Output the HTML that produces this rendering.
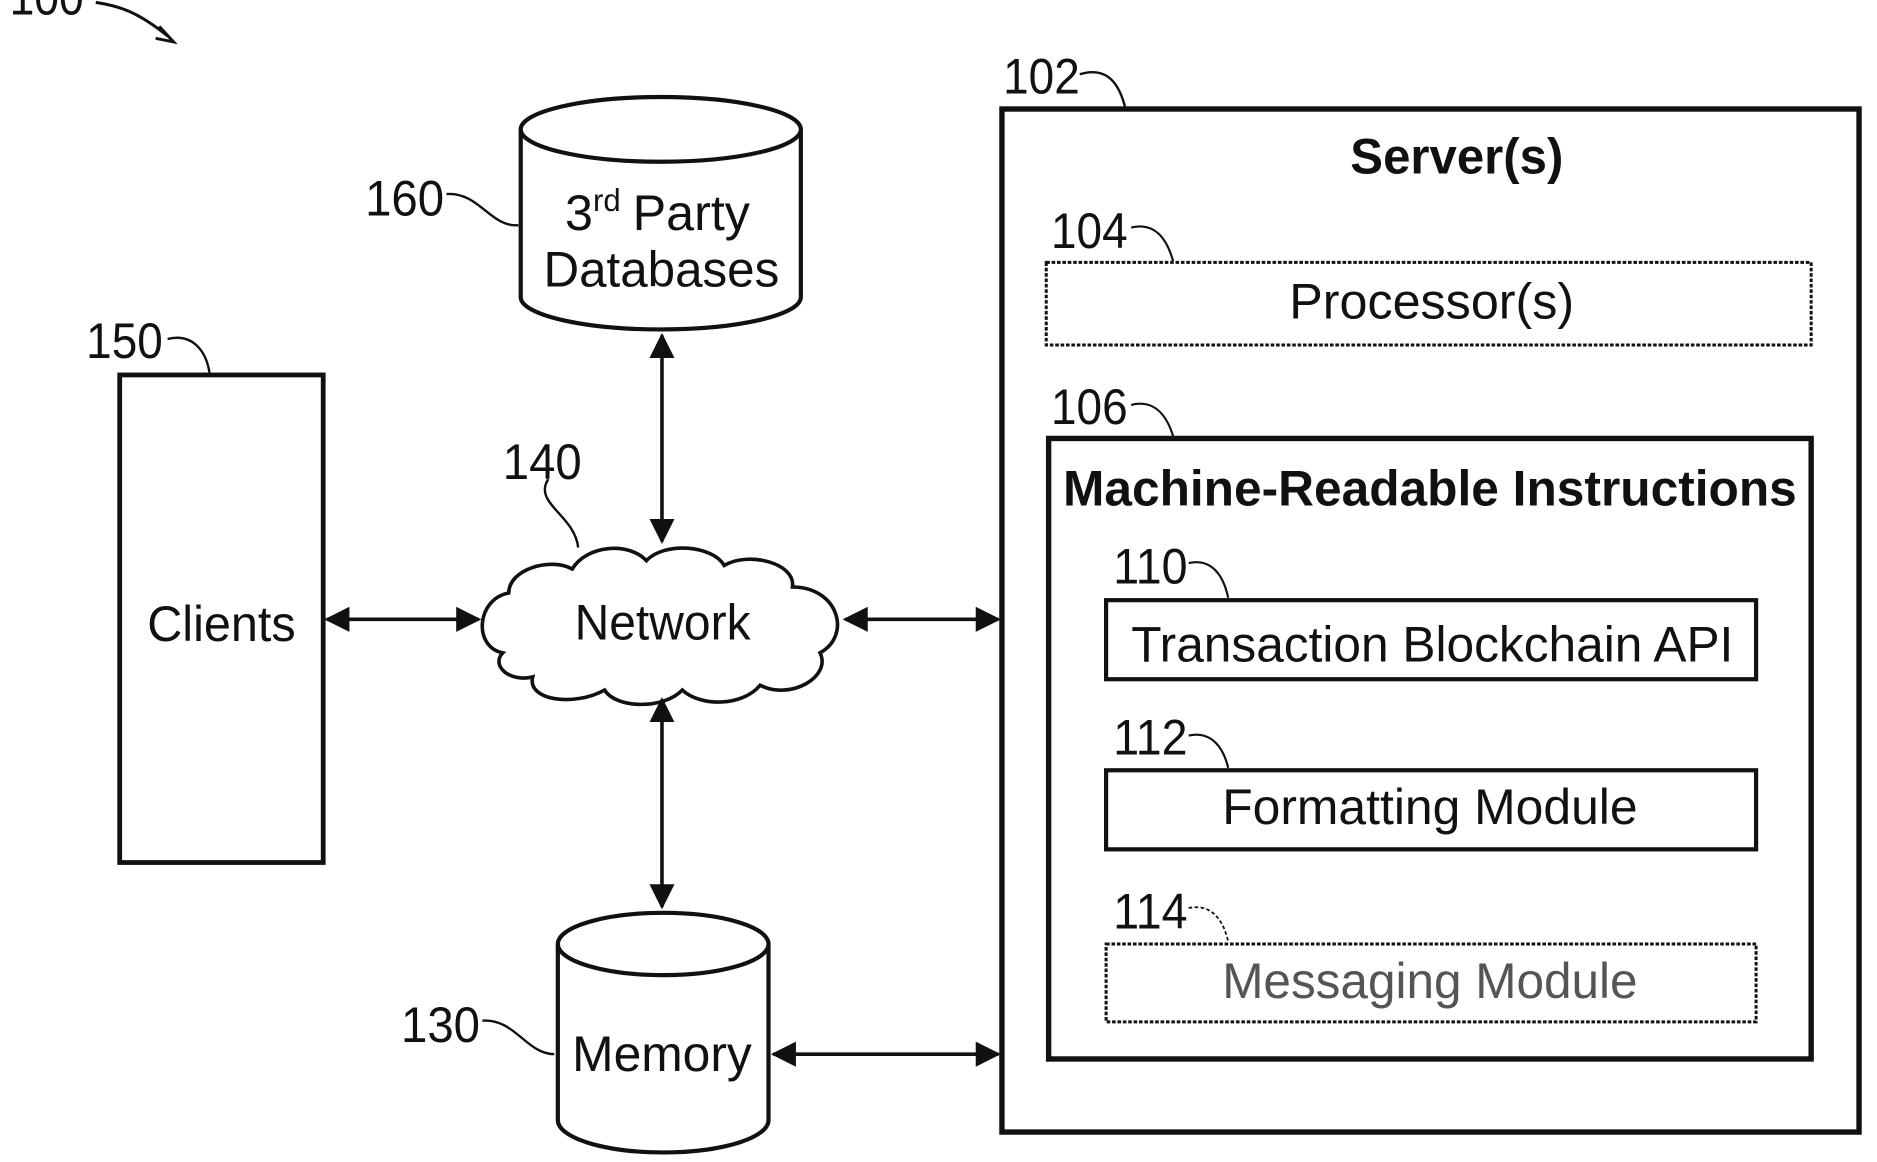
<!DOCTYPE html>
<html><head><meta charset="utf-8"><style>
html,body{margin:0;padding:0;background:#fff;}
svg{display:block;}
text{font-family:"Liberation Sans",sans-serif;fill:#111;}
</style></head><body>
<svg width="1877" height="1162" viewBox="0 0 1568 970" preserveAspectRatio="none" xmlns="http://www.w3.org/2000/svg">
<defs>
<marker id="ah" viewBox="0 0 10 10" refX="9" refY="5" markerWidth="7" markerHeight="7" orient="auto-start-reverse">
<path d="M0,0 L10,5 L0,10 z" fill="#111"/></marker>
</defs>
<g stroke="#111" fill="none">
<!-- 100 -->
<path d="M80,2 C100,5 115,10 140,30" stroke-width="2.5"/>
<path d="M133,22 L145,35 L130,32" stroke-width="2.5"/>
<!-- server -->
<rect x="837" y="91" width="716" height="854" stroke-width="4.5"/>
<path d="M902,62 C925,55 935,70 940,90" stroke-width="2"/>
<rect x="874" y="219" width="639" height="69" stroke-width="2.5" stroke-dasharray="3 1.5"/>
<path d="M945,190 C965,185 975,200 980,218" stroke-width="1.8"/>
<rect x="876" y="366" width="637" height="518" stroke-width="4.5"/>
<path d="M945,338 C965,333 975,348 980,364" stroke-width="1.8"/>
<rect x="924" y="501" width="543" height="66" stroke-width="3.5"/>
<path d="M993,470 C1012,466 1022,480 1026,499" stroke-width="1.8"/>
<rect x="924" y="643" width="543" height="66" stroke-width="3.5"/>
<path d="M993,614 C1012,610 1022,624 1026,641" stroke-width="1.8"/>
<rect x="924" y="788" width="543" height="65" stroke-width="2.5" stroke-dasharray="3 1.5"/>
<path d="M993,758 C1012,754 1022,768 1026,786" stroke-width="1.5" stroke-dasharray="3 2"/>
<!-- clients -->
<rect x="100" y="313" width="170" height="407" stroke-width="4"/>
<path d="M140,283 C160,278 172,292 175,311" stroke-width="2"/>
<!-- 3rd party db -->
<path d="M435,108 L435,248 A117,27 0 0 0 669,248 L669,108" stroke-width="3.5" fill="#fff"/>
<ellipse cx="552" cy="108" rx="117" ry="27" stroke-width="3.5" fill="#fff"/>
<path d="M373,162 C400,160 410,190 433,188" stroke-width="2"/>
<!-- memory -->
<path d="M466,788 L466,935 A88,27 0 0 0 642,935 L642,788" stroke-width="3.5" fill="#fff"/>
<ellipse cx="554" cy="788" rx="88" ry="26" stroke-width="3.5" fill="#fff"/>
<path d="M403,852 C430,850 440,880 463,880" stroke-width="2"/>
<!-- cloud -->
<path d="M420,545 C395,540 398,500 425,495 C425,475 460,465 478,475 C490,455 525,452 540,468 C555,452 595,455 605,472 C625,460 665,470 662,490 C700,490 712,530 685,545 C695,565 660,585 635,572 C620,590 585,590 570,576 C555,592 515,592 505,576 C480,590 440,585 445,565 C425,570 410,555 420,545 Z" stroke-width="3" fill="#fff"/>
<path d="M458,400 C445,420 480,430 483,457" stroke-width="2"/>
<!-- arrows -->
<line x1="553" y1="280" x2="553" y2="452" stroke-width="3" marker-start="url(#ah)" marker-end="url(#ah)"/>
<line x1="553" y1="584" x2="553" y2="757" stroke-width="3" marker-start="url(#ah)" marker-end="url(#ah)"/>
<line x1="273" y1="517" x2="400" y2="517" stroke-width="3" marker-start="url(#ah)" marker-end="url(#ah)"/>
<line x1="706" y1="517" x2="834" y2="517" stroke-width="3" marker-start="url(#ah)" marker-end="url(#ah)"/>
<line x1="646" y1="880" x2="834" y2="880" stroke-width="3" marker-start="url(#ah)" marker-end="url(#ah)"/>
</g>
<g font-size="42">
<text x="8" y="12" textLength="62" lengthAdjust="spacingAndGlyphs">100</text>
<text x="838" y="78" textLength="64" lengthAdjust="spacingAndGlyphs">102</text>
<text x="1128" y="145" font-weight="bold" textLength="178" lengthAdjust="spacingAndGlyphs">Server(s)</text>
<text x="878" y="207" textLength="64" lengthAdjust="spacingAndGlyphs">104</text>
<text x="1077" y="266" textLength="238" lengthAdjust="spacingAndGlyphs">Processor(s)</text>
<text x="878" y="354" textLength="64" lengthAdjust="spacingAndGlyphs">106</text>
<text x="888" y="422" font-weight="bold" textLength="613" lengthAdjust="spacingAndGlyphs">Machine-Readable Instructions</text>
<text x="930" y="487" textLength="62" lengthAdjust="spacingAndGlyphs">110</text>
<text x="945" y="552" textLength="503" lengthAdjust="spacingAndGlyphs">Transaction Blockchain API</text>
<text x="930" y="630" textLength="62" lengthAdjust="spacingAndGlyphs">112</text>
<text x="1021" y="688" textLength="347" lengthAdjust="spacingAndGlyphs">Formatting Module</text>
<text x="930" y="775" textLength="62" lengthAdjust="spacingAndGlyphs">114</text>
<text x="1021" y="833" textLength="347" lengthAdjust="spacingAndGlyphs" style="fill:#555">Messaging Module</text>
<text x="72" y="299" textLength="64" lengthAdjust="spacingAndGlyphs">150</text>
<text x="123" y="535" textLength="124" lengthAdjust="spacingAndGlyphs">Clients</text>
<text x="305" y="180" textLength="66" lengthAdjust="spacingAndGlyphs">160</text>
<text x="472" y="192">3<tspan font-size="26" dy="-16">rd</tspan><tspan dy="16" dx="10">Party</tspan></text>
<text x="454" y="239" textLength="197" lengthAdjust="spacingAndGlyphs">Databases</text>
<text x="420" y="400" textLength="66" lengthAdjust="spacingAndGlyphs">140</text>
<text x="480" y="534" textLength="147" lengthAdjust="spacingAndGlyphs">Network</text>
<text x="335" y="870" textLength="66" lengthAdjust="spacingAndGlyphs">130</text>
<text x="478" y="894" textLength="150" lengthAdjust="spacingAndGlyphs">Memory</text>
</g>
</svg>
</body></html>
